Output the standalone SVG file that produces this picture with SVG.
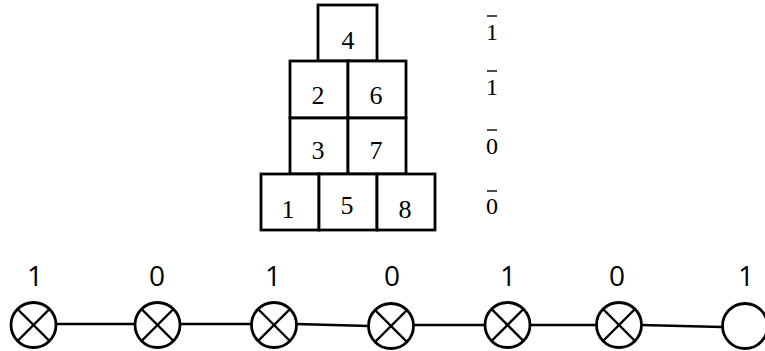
<svg xmlns="http://www.w3.org/2000/svg" width="765" height="351" viewBox="0 0 765 351">
<style>
.box{fill:#fff;stroke:#000;stroke-width:2.8}
.bt{font-family:"Liberation Serif",serif;font-size:26px;fill:#000;text-anchor:middle}
.rl{font-family:"Liberation Serif",serif;font-size:24px;fill:#000;text-anchor:middle}
.bar{stroke:#000;stroke-width:1.4}
.nd{fill:#fff;stroke:#000;stroke-width:2.8}
.x{stroke:#000;stroke-width:2.4}
.lb{font-family:"Open Sans","Liberation Sans",sans-serif;font-size:28px;fill:#000;text-anchor:middle}
.edge{stroke:#000;stroke-width:2.5;fill:none}
</style>
<g id="grid">
<g id="b4"><rect class="box" x="318" y="5" width="59" height="56"/><text class="bt" x="348" y="49">4</text></g>
<g id="b2"><rect class="box" x="290" y="61" width="58" height="57"/><text class="bt" x="318" y="104">2</text></g>
<g id="b6"><rect class="box" x="348" y="61" width="58" height="57"/><text class="bt" x="376" y="104">6</text></g>
<g id="b3"><rect class="box" x="290" y="118" width="58" height="56"/><text class="bt" x="318" y="159">3</text></g>
<g id="b7"><rect class="box" x="348" y="118" width="58" height="56"/><text class="bt" x="376" y="159">7</text></g>
<g id="b1"><rect class="box" x="261" y="174" width="58" height="56"/><text class="bt" x="288" y="218">1</text></g>
<g id="b5"><rect class="box" x="319" y="174" width="58" height="56"/><text class="bt" x="347" y="214">5</text></g>
<g id="b8"><rect class="box" x="377" y="174" width="58" height="56"/><text class="bt" x="405" y="218">8</text></g>
</g>
<g id="rowlabels">
<text class="rl" x="492" y="40">1</text><line class="bar" x1="487" y1="16" x2="497" y2="16"/>
<text class="rl" x="492" y="95">1</text><line class="bar" x1="487" y1="71" x2="497" y2="71"/>
<text class="rl" x="492" y="154">0</text><line class="bar" x1="487" y1="130" x2="497" y2="130"/>
<text class="rl" x="492" y="214">0</text><line class="bar" x1="487" y1="191" x2="497" y2="191"/>
</g>
<g id="connectors">
<line class="edge" x1="56" y1="324" x2="135" y2="324"/>
<line class="edge" x1="180" y1="324" x2="252" y2="324"/>
<line class="edge" x1="296" y1="324" x2="369" y2="326"/>
<line class="edge" x1="413" y1="325" x2="485" y2="325"/>
<line class="edge" x1="530" y1="325" x2="597" y2="325"/>
<line class="edge" x1="641" y1="325" x2="722" y2="327"/>
</g>
<defs>
<g id="otimes"><circle class="nd" cx="0" cy="0" r="22.5"/><line class="x" x1="-16" y1="-16" x2="16" y2="16"/><line class="x" x1="-16" y1="16" x2="16" y2="-16"/></g>
</defs>
<g id="n1"><use href="#otimes" x="33.5" y="325"/><text class="lb" x="35" y="286">1</text></g>
<g id="n2"><use href="#otimes" x="157.5" y="325"/><text class="lb" x="157" y="286">0</text></g>
<g id="n3"><use href="#otimes" x="274" y="325"/><text class="lb" x="273" y="286">1</text></g>
<g id="n4"><use href="#otimes" x="391" y="326"/><text class="lb" x="392" y="286">0</text></g>
<g id="n5"><use href="#otimes" x="507.5" y="325"/><text class="lb" x="508" y="286">1</text></g>
<g id="n6"><use href="#otimes" x="619" y="325"/><text class="lb" x="617" y="286">0</text></g>
<g id="n7"><circle class="nd" cx="745" cy="326" r="22.5"/><text class="lb" x="746" y="286">1</text></g>
</svg>
